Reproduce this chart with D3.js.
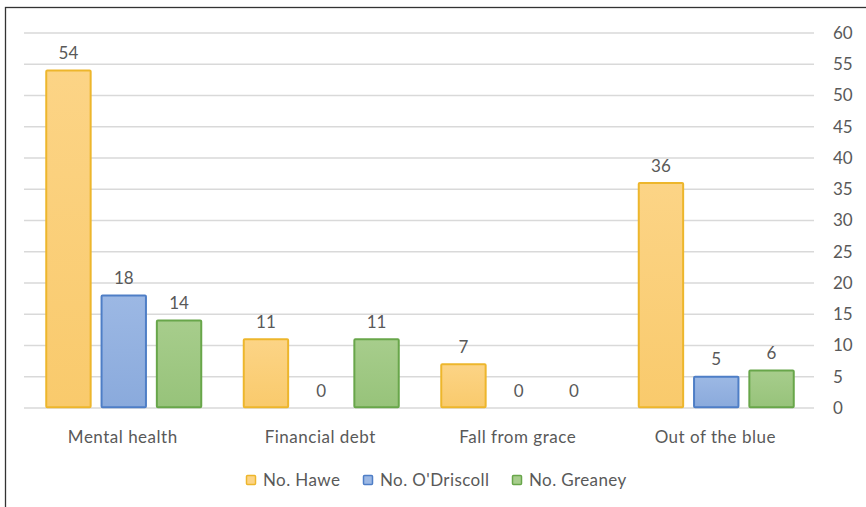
<!DOCTYPE html>
<html><head><meta charset="utf-8">
<script src="https://cdn.jsdelivr.net/npm/d3@7"></script>
<style>
body{margin:0;background:#fff;}
text{font-family:Lato,"Open Sans",sans-serif;fill:#595959;}
</style></head>
<body><svg id="c" width="866" height="507"></svg>
<script>
const categories = ["Mental health","Financial debt","Fall from grace","Out of the blue"];
const seriesNames = ["No. Hawe","No. O'Driscoll","No. Greaney"];
const hawe = [54, 11, 7, 36];
const odriscoll = [18, 0, 0, 5];
const greaney = [14, 11, 0, 6];
const yTicks = [0,5,10,15,20,25,30,35,40,45,50,55,60];

const seriesValues = [hawe, odriscoll, greaney];
const fills = ["#FCD486","#9CB8E4","#A7CD8C"];
const fillsDark = ["#F9CA6C","#8AAADC","#97C37A"];
const strokes = ["#EDB62C","#4E7EC6","#68A64A"];

const svg = d3.select("#c");
const W = 866, H = 507;
const pLeft = 24, pRight = 814, pTop = 33, pBottom = 408;
const FS = "17px";

// outer border
svg.append("rect").attr("x",5.5).attr("y",7.5).attr("width",W+10).attr("height",H+10)
  .attr("fill","none").attr("stroke","#333").attr("stroke-width",1.3);

const defs = svg.append("defs");
fills.forEach((f,i)=>{
  const g = defs.append("linearGradient").attr("id","g"+i).attr("x1",0).attr("y1",0).attr("x2",0).attr("y2",1);
  g.append("stop").attr("offset","0%").attr("stop-color",f);
  g.append("stop").attr("offset","100%").attr("stop-color",fillsDark[i]);
});

const x0 = d3.scaleBand().domain(categories).range([pLeft,pRight]).paddingInner(0).paddingOuter(0);
const x1 = d3.scaleBand().domain(seriesNames).range([21.5, x0.bandwidth()-19.5]).paddingInner(0.17);
const y = d3.scaleLinear().domain([0,60]).range([pBottom,pTop]);

// gridlines
svg.append("g").selectAll("line").data(yTicks).join("line")
  .attr("x1",pLeft).attr("x2",pRight)
  .attr("y1",d=>y(d)).attr("y2",d=>y(d))
  .attr("stroke","#D9D9D9").attr("stroke-width",1.5);

// right axis labels
const yAxis = d3.axisRight(y).tickValues(yTicks).tickSize(0).tickPadding(0);
const ag = svg.append("g").attr("transform",`translate(833,0)`).call(yAxis);
ag.select(".domain").remove();
ag.selectAll("text").attr("font-size",FS).attr("font-family","Lato,sans-serif").attr("fill","#595959");

// bars
const groups = svg.append("g").selectAll("g").data(categories).join("g")
  .attr("transform",d=>`translate(${x0(d)},0)`);
groups.each(function(cat,ci){
  const g = d3.select(this);
  seriesNames.forEach((s,si)=>{
    const v = seriesValues[si][ci];
    if(v>0){
      g.append("rect").attr("x",x1(s)+0.75).attr("width",x1.bandwidth()-1.5)
        .attr("y",y(v)).attr("height",y(0)-y(v)-0.75)
        .attr("fill",`url(#g${si})`).attr("stroke",strokes[si]).attr("stroke-width",2).attr("rx",1);
    }
    g.append("text").attr("x",x1(s)+x1.bandwidth()/2).attr("y",y(v)-11.5)
      .attr("text-anchor","middle").attr("font-size",FS).text(v);
  });
});

// category labels
svg.append("g").selectAll("text").data(categories).join("text")
  .attr("x",d=>x0(d)+x0.bandwidth()/2).attr("y",443)
  .attr("text-anchor","middle").attr("font-size",FS).attr("letter-spacing","0.5px").text(d=>d);

// legend
const legX = [246, 363, 512];
const lg = svg.append("g").selectAll("g").data(seriesNames).join("g")
  .attr("transform",(d,i)=>`translate(${legX[i]},475)`);
lg.append("rect").attr("x",0.5).attr("y",0.5).attr("width",9).attr("height",9).attr("rx",1)
  .attr("fill",(d,i)=>fills[i]).attr("stroke",(d,i)=>strokes[i]).attr("stroke-width",1.5);
lg.append("text").attr("x",17).attr("y",11).attr("font-size",FS).attr("letter-spacing","0.4px").text(d=>d);
</script></body></html>
